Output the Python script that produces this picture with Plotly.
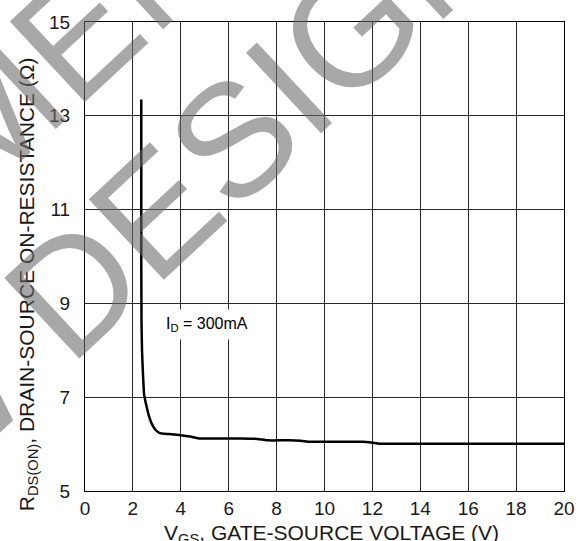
import plotly.graph_objects as go

# R_DS(on) versus V_GS at I_D = 300 mA
vgs = [2.35, 2.35, 2.36, 2.38, 2.42, 2.47, 2.55, 2.66, 2.8, 2.95, 3.1, 3.3, 3.6,
       4.0, 4.4, 4.8, 5.5, 6.5, 7.2, 7.6, 8.5, 9.0, 9.4, 10.5, 11.6, 12.0, 12.3,
       14.0, 16.0, 18.0, 20.0]
rds = [13.35, 10.0, 8.6, 8.0, 7.5, 7.05, 6.85, 6.62, 6.42, 6.3, 6.24, 6.22, 6.21,
       6.19, 6.16, 6.12, 6.12, 6.12, 6.11, 6.08, 6.08, 6.07, 6.05, 6.05, 6.05,
       6.03, 6.01, 6.01, 6.01, 6.01, 6.01]

x_ticks = [0, 2, 4, 6, 8, 10, 12, 14, 16, 18, 20]
y_ticks = [5, 7, 9, 11, 13, 15]

label_text = "I<sub>D</sub> = 300mA"
x_title = "V<sub>GS</sub>, GATE-SOURCE VOLTAGE (V)"
y_title = "R<sub>DS(ON)</sub>, DRAIN-SOURCE ON-RESISTANCE (\u03a9)"
watermark_lines = ["NOT RECOMMENDED", "FOR NEW DESIGN"]
# paper-coordinate centres of the two watermark lines
watermark_pos = [(-0.5182, 0.4981), (-0.2533, 0.2142)]

FONT = "Liberation Sans, Arial, sans-serif"

fig = go.Figure()
fig.add_trace(go.Scatter(
    x=vgs, y=rds, mode="lines",
    line=dict(color="black", width=2.5, shape="spline", smoothing=0.4),
    hoverinfo="skip", showlegend=False,
))

axis_common = dict(
    showgrid=True, gridcolor="#2a2a2a", gridwidth=1,
    showline=True, linecolor="black", linewidth=1, mirror=True,
    zeroline=False, ticks="",
    tickfont=dict(family=FONT, size=19, color="#1a1a1a"),
)

fig.update_xaxes(range=[0, 20], tickvals=x_ticks, ticklabelstandoff=0, **axis_common)
fig.update_yaxes(range=[5, 15], tickvals=y_ticks, ticklabelstandoff=10, **axis_common)

annotations = [
    dict(text=label_text, x=3.15, y=8.55, xref="x", yref="y",
         xanchor="left", yanchor="middle", showarrow=False,
         bgcolor="white", borderpad=5,
         font=dict(family=FONT, size=16, color="black")),
    dict(text=x_title, x=0.5146, y=-0.092, xref="paper", yref="paper",
         xanchor="center", yanchor="middle", showarrow=False,
         font=dict(family=FONT, size=21, color="#1a1a1a")),
    dict(text=y_title, x=-0.12, y=0.44, xref="paper", yref="paper",
         xanchor="center", yanchor="middle", showarrow=False, textangle=-90,
         font=dict(family=FONT, size=21, color="#1a1a1a")),
]
for line, (px, py) in zip(watermark_lines, watermark_pos):
    annotations.append(dict(
        text=line, x=px, y=py, xref="paper", yref="paper",
        xanchor="center", yanchor="middle", showarrow=False, textangle=-43,
        font=dict(family=FONT, size=160, color="rgba(105,105,105,0.58)"),
    ))

fig.update_layout(
    width=587, height=541,
    margin=dict(l=85, r=23, t=12, b=50),
    paper_bgcolor="white", plot_bgcolor="white",
    showlegend=False,
    annotations=annotations,
)

fig.write_html("out.html")
